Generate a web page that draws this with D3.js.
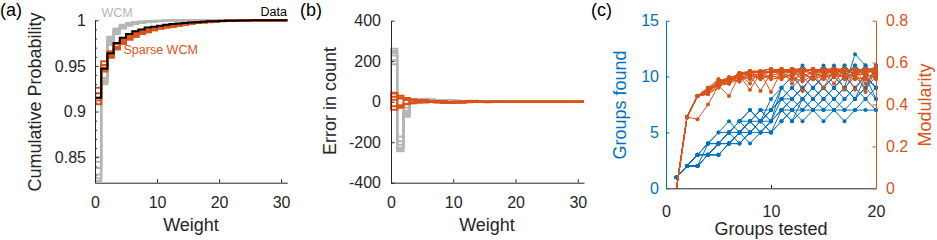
<!DOCTYPE html>
<html>
<head>
<meta charset="utf-8">
<script src="https://cdn.jsdelivr.net/npm/d3@7"></script>
<style>
  body { margin: 0; background: #fff; }
  svg { display: block; font-family: "Liberation Sans", Arial, Helvetica, sans-serif; }
</style>
</head>
<body>
<svg id="fig" width="937" height="240"></svg>
<script>
// ---- tick labels ----
const weightTicks = [0, 10, 20, 30]
const cdfTicks = [0.85, 0.9, 0.95, 1]
const cdfMinorTicks = [0.83, 0.84, 0.86, 0.87, 0.88, 0.89, 0.91, 0.92, 0.93, 0.94, 0.96, 0.97, 0.98, 0.99]
const errTicks = [-400, -200, 0, 200, 400]
const testedTicks = [0, 10, 20]
const foundTicks = [0, 5, 10, 15]
const modTicks = [0, 0.2, 0.4, 0.6, 0.8]

// ---- (a) cumulative probability per weight (value on [k, k+1]) ----
const cdfData = [0.915, 0.947, 0.964, 0.975, 0.981, 0.985, 0.988, 0.990, 0.992, 0.993, 0.994, 0.995, 0.996, 0.9965, 0.997, 0.9975, 0.998, 0.9985, 0.999, 0.999, 0.9993, 0.9995, 0.9996, 0.9997, 0.9998, 1]
const cdfWcm = [
  [0.824, 0.932, 0.975, 0.987, 0.992, 0.995, 0.997, 0.998, 0.9985, 0.999, 0.9992, 0.9994, 0.9995, 0.9996, 0.9997, 0.9998, 0.9999, 1],
  [0.831, 0.934, 0.978, 0.988, 0.993, 0.996, 0.9975, 0.998, 0.9988, 0.9991, 0.9993, 0.9995, 0.9996, 0.9997, 0.9998, 0.9999, 1],
  [0.838, 0.936, 0.980, 0.990, 0.994, 0.996, 0.998, 0.9985, 0.999, 0.9993, 0.9995, 0.9996, 0.9997, 0.9998, 0.9999, 1],
  [0.845, 0.930, 0.973, 0.985, 0.991, 0.994, 0.996, 0.997, 0.998, 0.9985, 0.999, 0.9993, 0.9995, 0.9997, 0.9998, 0.9999, 1],
  [0.850, 0.937, 0.982, 0.991, 0.995, 0.997, 0.998, 0.9988, 0.9992, 0.9994, 0.9996, 0.9997, 0.9998, 0.9999, 1],
  [0.827, 0.933, 0.977, 0.988, 0.993, 0.995, 0.997, 0.998, 0.9986, 0.999, 0.9993, 0.9995, 0.9997, 0.9998, 0.9999, 1]
]
const cdfSparse = [
  [0.908, 0.944, 0.959, 0.968, 0.974, 0.979, 0.982, 0.985, 0.987, 0.989, 0.991, 0.992, 0.993, 0.994, 0.995, 0.996, 0.997, 0.9975, 0.998, 0.9985, 0.999, 0.9993, 0.9995, 0.9997, 0.9999, 1],
  [0.915, 0.948, 0.962, 0.971, 0.977, 0.981, 0.984, 0.986, 0.988, 0.990, 0.992, 0.993, 0.994, 0.995, 0.996, 0.9965, 0.997, 0.998, 0.9985, 0.999, 0.9993, 0.9995, 0.9997, 0.9998, 1],
  [0.926, 0.955, 0.966, 0.974, 0.979, 0.983, 0.986, 0.988, 0.990, 0.991, 0.993, 0.994, 0.995, 0.996, 0.997, 0.9975, 0.998, 0.9985, 0.999, 0.9993, 0.9995, 0.9997, 0.9999, 1],
  [0.920, 0.951, 0.963, 0.970, 0.976, 0.980, 0.983, 0.985, 0.987, 0.989, 0.991, 0.992, 0.993, 0.994, 0.995, 0.996, 0.997, 0.998, 0.9985, 0.999, 0.9994, 0.9997, 0.9999, 1],
  [0.912, 0.946, 0.960, 0.969, 0.975, 0.979, 0.982, 0.985, 0.988, 0.990, 0.991, 0.993, 0.994, 0.995, 0.996, 0.997, 0.9975, 0.998, 0.9985, 0.999, 0.9993, 0.9996, 0.9998, 1]
]

// ---- (b) error in count per weight ----
const errWcm = [
  [262, -245, -70, -6, 8, 12, 10, 8, 5, 7, 4, 2, 3, 5, 2, 1, 1, 0],
  [250, -236, -62, 0, 10, 14, 12, 7, 4, 8, 6, 3, 4, 3, 1, 2, 0],
  [228, -212, -45, 5, 12, 10, 9, 6, 5, 6, 3, 2, 5, 4, 2, 1, 0],
  [205, -195, -30, 3, 6, 11, 8, 9, 6, 5, 4, 3, 2, 4, 3, 1, 0],
  [185, -172, -74, -8, 9, 13, 11, 7, 5, 6, 5, 4, 3, 2, 1, 0],
  [240, -228, -55, 2, 11, 9, 10, 8, 6, 7, 4, 2, 3, 4, 2, 1, 0]
]
const errSparse = [
  [40, 30, 14, 10, 8, 5, 4, 3, 2, -5, -4, -3, 2, 1, -2, -3, -1, 0],
  [-40, -24, -10, -8, 5, 6, 3, -4, -6, -3, -2, -4, 2, 3, -1, -2, 1, 0],
  [25, 16, 18, 12, 9, 7, 2, 1, -3, -2, 1, 2, -3, -2, 1, 0],
  [-22, -18, 8, 6, 4, 3, -2, -3, -4, -6, -5, -3, -2, -1, 0],
  [10, 20, 14, -6, -5, -4, 2, 3, 1, -2, -3, -4, 1, 2, 0],
  [44, -30, -12, 9, 7, 4, 3, 2, -1, -2, -3, -2, 1, 0]
]

// ---- (c) groups tested 1..20 ----
const groupsTested = [1, 2, 3, 4, 5, 6, 7, 8, 9, 10, 11, 12, 13, 14, 15, 16, 17, 18, 19, 20]
const groupsFound = [
  [1, 2, 2, 3, 3, 4, 4, 5, 5, 5, 7, 7, 7, 7, 7, 7, 7, 7, 7, 7],
  [1, 2, 3, 3, 4, 5, 5, 6, 6, 7, 8, 9, 8, 9, 10, 9, 10, 11, 10, 9],
  [1, 2, 2, 3, 4, 4, 5, 5, 6, 6, 7, 6, 8, 7, 8, 9, 8, 9, 10, 9],
  [1, 2, 3, 4, 4, 5, 6, 6, 7, 7, 8, 8, 9, 10, 9, 10, 9, 12, 11, 10],
  [1, 2, 2, 3, 3, 4, 5, 6, 5, 6, 7, 8, 7, 8, 9, 8, 9, 8, 9, 8],
  [1, 2, 3, 4, 5, 5, 6, 7, 6, 7, 9, 10, 11, 10, 9, 10, 11, 10, 9, 11],
  [1, 2, 2, 3, 4, 5, 4, 5, 6, 5, 6, 7, 6, 7, 8, 7, 8, 9, 8, 7],
  [1, 2, 3, 3, 4, 4, 5, 6, 7, 6, 8, 7, 8, 9, 8, 9, 10, 9, 10, 9],
  [1, 2, 2, 4, 4, 5, 6, 5, 6, 7, 8, 9, 10, 9, 10, 11, 10, 11, 10, 11],
  [1, 2, 3, 4, 5, 6, 5, 6, 5, 6, 7, 8, 9, 8, 7, 8, 7, 8, 9, 10],
  [1, 2, 2, 3, 4, 4, 5, 4, 5, 6, 7, 6, 7, 8, 9, 8, 9, 10, 11, 10],
  [1, 2, 3, 3, 3, 4, 5, 6, 7, 6, 9, 8, 9, 8, 9, 10, 9, 8, 10, 8],
  [1, 2, 3, 4, 4, 5, 6, 7, 6, 8, 9, 10, 9, 10, 11, 10, 11, 10, 11, 10],
  [1, 2, 2, 3, 3, 4, 4, 5, 6, 5, 6, 7, 8, 7, 6, 7, 6, 7, 8, 9]
]
const modularity = [
  [0, 0.34, 0.44, 0.47, 0.51, 0.52, 0.55, 0.56, 0.56, 0.57, 0.56, 0.57, 0.57, 0.56, 0.57, 0.57, 0.57, 0.56, 0.57, 0.57],
  [0, 0.34, 0.33, 0.40, 0.49, 0.44, 0.54, 0.55, 0.54, 0.56, 0.57, 0.55, 0.56, 0.57, 0.56, 0.55, 0.57, 0.56, 0.55, 0.57],
  [0, 0.34, 0.44, 0.46, 0.50, 0.53, 0.52, 0.55, 0.56, 0.55, 0.56, 0.56, 0.52, 0.56, 0.57, 0.56, 0.55, 0.57, 0.56, 0.56],
  [0, 0.34, 0.44, 0.48, 0.52, 0.51, 0.54, 0.47, 0.55, 0.56, 0.55, 0.57, 0.56, 0.55, 0.48, 0.57, 0.56, 0.55, 0.57, 0.56],
  [0, 0.34, 0.44, 0.45, 0.49, 0.52, 0.55, 0.54, 0.465, 0.55, 0.57, 0.56, 0.55, 0.57, 0.56, 0.57, 0.47, 0.56, 0.57, 0.55],
  [0, 0.34, 0.44, 0.47, 0.50, 0.52, 0.53, 0.56, 0.55, 0.46, 0.56, 0.55, 0.57, 0.56, 0.55, 0.56, 0.57, 0.56, 0.46, 0.57],
  [0, 0.34, 0.44, 0.46, 0.51, 0.50, 0.55, 0.55, 0.56, 0.57, 0.53, 0.56, 0.465, 0.55, 0.57, 0.56, 0.56, 0.57, 0.56, 0.55],
  [0, 0.34, 0.44, 0.48, 0.50, 0.53, 0.54, 0.56, 0.55, 0.56, 0.57, 0.50, 0.56, 0.57, 0.56, 0.50, 0.57, 0.56, 0.57, 0.56],
  [0, 0.34, 0.44, 0.46, 0.52, 0.51, 0.55, 0.55, 0.56, 0.55, 0.56, 0.57, 0.55, 0.52, 0.57, 0.55, 0.56, 0.47, 0.55, 0.57],
  [0, 0.34, 0.44, 0.47, 0.49, 0.52, 0.54, 0.50, 0.56, 0.57, 0.55, 0.56, 0.57, 0.56, 0.53, 0.57, 0.56, 0.57, 0.50, 0.56],
  [0, 0.34, 0.44, 0.45, 0.51, 0.53, 0.51, 0.56, 0.55, 0.56, 0.57, 0.55, 0.56, 0.55, 0.56, 0.57, 0.52, 0.56, 0.57, 0.55],
  [0, 0.34, 0.44, 0.48, 0.50, 0.52, 0.55, 0.55, 0.53, 0.56, 0.56, 0.57, 0.56, 0.57, 0.55, 0.56, 0.57, 0.55, 0.56, 0.58],
  [0, 0.34, 0.44, 0.46, 0.50, 0.51, 0.53, 0.54, 0.53, 0.54, 0.52, 0.55, 0.54, 0.53, 0.55, 0.54, 0.53, 0.55, 0.54, 0.53],
  [0, 0.34, 0.44, 0.47, 0.49, 0.50, 0.52, 0.53, 0.55, 0.53, 0.54, 0.52, 0.54, 0.55, 0.53, 0.54, 0.55, 0.53, 0.52, 0.54],
  [0, 0.34, 0.44, 0.45, 0.48, 0.52, 0.51, 0.54, 0.52, 0.54, 0.55, 0.53, 0.51, 0.54, 0.52, 0.55, 0.53, 0.54, 0.55, 0.52],
  [0, 0.34, 0.44, 0.46, 0.50, 0.50, 0.54, 0.52, 0.54, 0.52, 0.53, 0.54, 0.55, 0.52, 0.54, 0.53, 0.54, 0.52, 0.53, 0.55]
]

const dark = '#262626'
const gray = '#b5b5b5'
const orange = '#D95319'
const blue = '#0072BD'
const tickFont = 16
const labelFont = 18

const svg = d3.select('#fig')

// step points: value i holds on [i, i+1], last value runs to xmax
function stairs(values, xmax, fromZero) {
  const pts = values.map((v, i) => [i, v])
  pts.push([xmax, values[values.length - 1]])
  if (fromZero) pts.unshift([0, 0])
  return pts
}

function styleAxis(g, color) {
  g.select('.domain').attr('stroke', color).attr('stroke-width', 1)
  g.selectAll('.tick line').attr('stroke', color)
  g.selectAll('.tick text').attr('fill', color).attr('font-size', tickFont)
  g.attr('font-family', null)
}

function yLabel(x, y, text, color) {
  svg.append('text')
    .attr('transform', `translate(${x},${y}) rotate(-90)`)
    .attr('text-anchor', 'middle')
    .attr('font-size', labelFont)
    .attr('fill', color)
    .text(text)
}

function xLabel(x, y, text) {
  svg.append('text')
    .attr('x', x).attr('y', y)
    .attr('text-anchor', 'middle')
    .attr('font-size', labelFont)
    .attr('fill', dark)
    .text(text)
}

function panelLabel(x, text) {
  svg.append('text').attr('x', x).attr('y', 16)
    .attr('font-size', 18).attr('fill', '#000').text(text)
}

// ================= (a) =================
const xA = d3.scaleLinear().domain([0, 31]).range([95, 287.3])
const yA = d3.scaleLinear().domain([0.822, 1]).range([182.7, 20.3])
const lineA = d3.line().x(d => xA(d[0])).y(d => yA(d[1])).curve(d3.curveStepAfter)
const gA = svg.append('g')

cdfWcm.forEach(s => {
  gA.append('path').attr('d', lineA(stairs(s, 31))).attr('fill', 'none')
    .attr('stroke', gray).attr('stroke-width', 2)
})
cdfSparse.forEach(s => {
  gA.append('path').attr('d', lineA(stairs(s, 31))).attr('fill', 'none')
    .attr('stroke', orange).attr('stroke-width', 2)
})
gA.append('path').attr('d', lineA(stairs(cdfData, 31))).attr('fill', 'none')
  .attr('stroke', '#000').attr('stroke-width', 2)

gA.append('g').attr('transform', 'translate(95,0)')
  .call(d3.axisLeft(yA).tickValues(cdfMinorTicks).tickSize(-2).tickSizeOuter(0).tickFormat(''))
  .call(g => styleAxis(g, dark))
gA.append('g').attr('transform', 'translate(95,0)')
  .call(d3.axisLeft(yA).tickValues(cdfTicks).tickSize(-3.5).tickSizeOuter(0).tickPadding(9).tickFormat(d => String(d)))
  .call(g => styleAxis(g, dark))
gA.append('g').attr('transform', 'translate(0,182.7)')
  .call(d3.axisBottom(xA).tickValues(weightTicks).tickSize(-3.5).tickSizeOuter(0).tickPadding(14))
  .call(g => styleAxis(g, dark))

gA.append('text').attr('x', 101.5).attr('y', 16.5).attr('font-size', 12.5).attr('fill', gray).text('WCM')
gA.append('text').attr('x', 287).attr('y', 15.5).attr('text-anchor', 'end').attr('font-size', 12.5).attr('fill', '#000').text('Data')
gA.append('text').attr('x', 123.5).attr('y', 54).attr('font-size', 12.5).attr('fill', orange).text('Sparse WCM')

yLabel(41, 102, 'Cumulative Probability', dark)
xLabel(191, 231, 'Weight')
panelLabel(0, '(a)')

// ================= (b) =================
const xB = d3.scaleLinear().domain([0, 31]).range([391, 584])
const yB = d3.scaleLinear().domain([-400, 400]).range([182.7, 20.7])
const lineB = d3.line().x(d => xB(d[0])).y(d => yB(d[1])).curve(d3.curveStepAfter)
const gB = svg.append('g')

errWcm.forEach(s => {
  gB.append('path').attr('d', lineB(stairs(s, 31, true))).attr('fill', 'none')
    .attr('stroke', gray).attr('stroke-width', 2)
})
errSparse.forEach(s => {
  gB.append('path').attr('d', lineB(stairs(s, 31, true))).attr('fill', 'none')
    .attr('stroke', orange).attr('stroke-width', 2)
})

gB.append('g').attr('transform', 'translate(391,0)')
  .call(d3.axisLeft(yB).tickValues(errTicks).tickSize(-3.5).tickSizeOuter(0).tickPadding(10).tickFormat(d => String(d)))
  .call(g => styleAxis(g, dark))
gB.append('g').attr('transform', 'translate(0,182.7)')
  .call(d3.axisBottom(xB).tickValues(weightTicks).tickSize(-3.5).tickSizeOuter(0).tickPadding(14))
  .call(g => styleAxis(g, dark))

yLabel(336, 101, 'Error in count', dark)
xLabel(487, 231, 'Weight')
panelLabel(300, '(b)')

// ================= (c) =================
const xC = d3.scaleLinear().domain([0, 20]).range([666, 876])
const yL = d3.scaleLinear().domain([0, 15]).range([188.3, 20.7])
const yR = d3.scaleLinear().domain([0, 0.8]).range([188.3, 20.7])
const gC = svg.append('g')

const lineFound = d3.line().x((d, i) => xC(groupsTested[i])).y(d => yL(d))
groupsFound.forEach(s => {
  gC.append('path').attr('d', lineFound(s)).attr('fill', 'none')
    .attr('stroke', blue).attr('stroke-width', 1)
  gC.append('g').selectAll('circle').data(s).join('circle')
    .attr('cx', (d, i) => xC(groupsTested[i])).attr('cy', d => yL(d))
    .attr('r', 2).attr('fill', blue)
})

const lineMod = d3.line().x((d, i) => xC(groupsTested[i])).y(d => yR(d))
modularity.forEach(s => {
  gC.append('path').attr('d', lineMod(s)).attr('fill', 'none')
    .attr('stroke', orange).attr('stroke-width', 1)
  gC.append('g').selectAll('circle').data(s.slice(1)).join('circle')
    .attr('cx', (d, i) => xC(groupsTested[i + 1])).attr('cy', d => yR(d))
    .attr('r', 2).attr('fill', orange)
})

gC.append('g').attr('transform', 'translate(0,188.3)')
  .call(d3.axisBottom(xC).tickValues(testedTicks).tickSize(-3.5).tickSizeOuter(0).tickPadding(17))
  .call(g => styleAxis(g, dark))
gC.append('g').attr('transform', 'translate(666,0)')
  .call(d3.axisLeft(yL).tickValues(foundTicks).tickSize(-3.5).tickSizeOuter(0).tickPadding(7))
  .call(g => styleAxis(g, blue))
gC.append('g').attr('transform', 'translate(876,0)')
  .call(d3.axisRight(yR).tickValues(modTicks).tickSize(-3.5).tickSizeOuter(0).tickPadding(10).tickFormat(d => String(d)))
  .call(g => styleAxis(g, orange))

yLabel(626, 105, 'Groups found', blue)
yLabel(931, 105, 'Modularity', orange)
xLabel(771, 235, 'Groups tested')
panelLabel(591, '(c)')
</script>
</body>
</html>
